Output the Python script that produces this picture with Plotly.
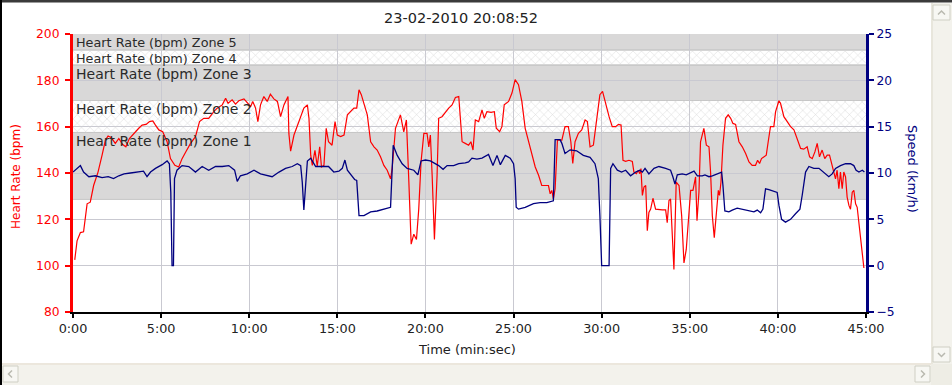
import plotly.graph_objects as go

# ---------------- data ----------------
chart_title = "23-02-2010 20:08:52"
x_tick_minutes = [0, 5, 10, 15, 20, 25, 30, 35, 40, 45]
x_tick_labels = ["0:00", "5:00", "10:00", "15:00", "20:00", "25:00", "30:00", "35:00", "40:00", "45:00"]

zone_names = ["Heart Rate (bpm) Zone 1", "Heart Rate (bpm) Zone 2", "Heart Rate (bpm) Zone 3",
              "Heart Rate (bpm) Zone 4", "Heart Rate (bpm) Zone 5"]
zone_low = [128.6, 157.5, 171.3, 186.6, 193.1]
zone_high = [157.5, 171.3, 186.6, 193.1, 200.0]

hr_time = [0.1,0.23,0.42,0.6,0.8,0.98,1.17,1.42,1.65,1.84,
           1.99,2.18,2.4,2.6,2.82,3.0,3.2,3.45,3.73,3.92,
           4.15,4.34,4.53,4.68,4.87,5.09,5.34,5.53,5.78,6.0,
           6.19,6.42,6.67,6.95,7.18,7.42,7.7,7.99,8.18,8.47,
           8.66,8.8,9.03,9.22,9.41,9.7,9.89,10.08,10.2,10.36,
           10.49,10.64,10.83,11.02,11.2,11.4,11.6,11.78,11.97,12.2,
           12.25,12.35,12.54,12.82,13.1,13.3,13.39,13.49,13.58,13.73,
           13.86,14.0,14.1,14.24,14.37,14.5,14.7,14.87,15.0,15.19,
           15.38,15.57,15.75,15.94,16.1,16.23,16.36,16.51,16.7,16.89,
           17.08,17.26,17.45,17.64,17.83,18.02,18.11,18.3,18.58,18.77,
           18.92,19.06,19.19,19.34,19.49,19.62,19.75,19.91,20.09,20.19,
           20.28,20.38,20.51,20.66,20.75,20.94,21.13,21.32,21.51,21.7,
           21.89,21.98,22.08,22.26,22.45,22.58,22.7,22.83,23.02,23.21,
           23.34,23.49,23.72,23.91,24.02,24.21,24.34,24.47,24.72,24.91,
           25.09,25.28,25.47,25.66,25.85,26.04,26.23,26.42,26.6,26.79,
           26.98,27.08,27.17,27.26,27.36,27.49,27.74,27.92,28.11,28.25,
           28.36,28.49,28.68,28.87,29.06,29.19,29.34,29.53,29.72,29.9,
           30.05,30.23,30.42,30.6,30.79,30.95,31.1,31.21,31.36,31.55,
           31.74,31.83,31.97,32.08,32.16,32.23,32.31,32.4,32.5,32.59,
           32.68,32.78,32.91,33.06,33.25,33.44,33.63,33.72,33.82,33.91,
           34.01,34.1,34.23,34.39,34.54,34.67,34.8,34.91,35.05,35.18,
           35.33,35.41,35.52,35.61,35.8,35.94,36.09,36.18,36.28,36.39,
           36.5,36.62,36.69,36.77,36.88,37.03,37.18,37.32,37.45,37.6,
           37.79,37.98,38.17,38.36,38.54,38.73,38.85,38.96,39.07,39.2,
           39.34,39.45,39.58,39.77,39.87,40.06,40.15,40.34,40.53,40.72,
           40.91,41.1,41.29,41.47,41.66,41.8,41.95,42.1,42.23,42.36,
           42.51,42.66,42.8,42.93,43.08,43.17,43.27,43.36,43.46,43.55,
           43.65,43.74,43.84,43.93,44.03,44.12,44.22,44.31,44.41,44.5,
           44.6,44.69,44.79,44.88]
hr_bpm = [102.5,110.7,114.3,114.6,126.7,127.4,134.6,140.4,147.7,154.2,
          156.0,155.2,152.8,154.9,152.3,151.3,154.9,157.1,159.3,160.7,
          161.0,162.2,162.5,160.7,158.6,157.8,153.5,146.2,143.3,142.6,
          146.2,149.4,152.8,155.7,162.2,163.6,163.6,166.5,168.0,169.4,
          172.3,170.1,171.6,169.7,171.2,172.0,170.1,168.7,170.9,168.0,
          162.2,169.4,173.0,170.9,174.0,172.0,170.9,164.3,169.4,173.0,
          157.1,149.4,156.4,162.2,168.0,169.4,163.6,147.7,143.3,149.8,
          143.0,151.3,142.6,143.3,159.3,153.5,152.0,162.2,156.4,155.7,
          156.4,165.1,166.5,168.0,168.0,175.9,173.8,170.1,165.1,153.5,
          151.3,149.9,147.0,143.3,141.2,137.5,141.9,159.3,165.1,157.8,
          162.9,135.9,109.3,113.6,111.3,124.4,144.8,157.1,157.1,151.3,
          156.4,139.0,111.3,139.0,163.6,164.3,166.2,168.0,169.4,172.6,
          173.0,163.6,153.5,152.8,152.0,153.5,149.9,162.9,162.2,167.2,
          163.6,166.5,166.2,166.5,159.3,157.8,160.0,169.4,170.9,174.5,
          180.3,178.1,170.9,159.3,153.5,147.7,142.6,139.0,134.6,134.6,
          134.6,131.0,132.5,128.8,133.2,154.2,154.2,160.0,160.0,153.5,
          144.1,153.5,157.1,158.6,162.9,162.2,151.3,152.0,162.2,173.8,
          175.2,169.4,164.3,160.0,160.0,161.0,160.7,145.5,145.0,145.5,
          145.0,140.4,139.7,141.2,139.7,141.9,130.3,133.9,134.6,115.1,
          123.0,124.4,129.1,124.4,124.1,124.1,124.1,118.6,128.1,128.8,
          112.9,98.4,136.1,134.6,121.5,101.2,107.0,118.6,132.5,132.5,
          138.3,119.4,131.7,153.5,159.3,152.0,151.3,140.4,121.5,112.1,
          121.5,132.5,130.3,136.1,152.0,163.6,165.1,163.6,161.4,161.0,
          153.5,151.3,148.4,144.8,143.3,143.3,145.5,144.1,146.2,147.0,
          147.7,153.5,160.0,160.0,166.5,171.2,170.1,164.3,162.2,160.0,
          158.6,154.2,150.6,150.3,151.3,147.0,146.2,149.1,152.8,147.0,
          149.9,146.2,147.7,147.7,143.3,141.2,137.5,141.2,133.2,140.4,
          133.2,140.4,138.3,129.6,126.0,124.4,131.7,132.5,126.7,125.2,
          118.6,109.9,103.3,99.0]

speed_time = [0,0.42,0.6,0.9,1.27,1.65,2.0,2.3,2.6,2.9,
              3.26,3.73,4.0,4.2,4.4,4.68,5.06,5.34,5.47,5.55,
              5.62,5.7,5.76,5.9,6.19,6.57,6.95,7.33,7.7,8.09,
              8.47,8.84,9.17,9.32,9.5,9.89,10.27,10.64,10.93,11.3,
              11.69,12.06,12.44,12.73,12.92,13.01,13.1,13.2,13.3,13.49,
              13.77,14.15,14.5,14.8,15.09,15.28,15.43,15.57,15.79,15.98,
              16.1,16.23,16.51,16.89,17.26,17.64,17.92,18.02,18.17,18.4,
              18.68,18.96,19.34,19.57,19.75,20.0,20.28,20.57,20.75,21.0,
              21.23,21.6,21.89,22.26,22.45,22.64,22.92,23.21,23.49,23.58,
              23.83,24.06,24.25,24.53,24.81,25.0,25.09,25.15,25.28,25.66,
              26.13,26.51,26.89,27.17,27.26,27.36,27.64,27.74,27.92,28.21,
              28.58,28.96,29.34,29.62,29.81,29.9,30.0,30.42,30.51,30.64,
              30.89,31.13,31.36,31.64,31.93,32.16,32.31,32.46,32.68,32.97,
              33.25,33.63,33.91,34.04,34.16,34.29,34.57,34.8,35.05,35.24,
              35.43,35.71,35.86,36.09,36.28,36.56,36.81,36.88,36.99,37.22,
              37.41,37.69,37.98,38.36,38.64,38.83,39.02,39.15,39.3,39.49,
              39.68,39.96,40.06,40.21,40.43,40.72,41.0,41.25,41.38,41.57,
              41.76,42.04,42.33,42.61,42.89,43.08,43.27,43.55,43.84,44.12,
              44.31,44.44,44.6,44.79,44.91]
speed_kmh = [10.1,10.8,10.1,9.6,9.7,9.5,9.6,9.4,9.7,9.9,
             10.0,10.1,10.2,9.6,10.1,10.5,10.9,11.3,11.0,7.9,
             0.0,0.0,9.4,10.3,10.8,10.7,10.1,10.7,10.3,10.7,
             10.7,10.8,10.3,9.1,9.7,9.9,10.3,9.9,9.8,9.6,
             10.1,10.5,10.7,11.0,10.8,9.0,6.0,8.7,11.3,11.6,
             10.7,10.7,10.7,10.1,10.2,10.5,11.4,10.3,9.7,9.3,
             9.2,5.4,5.4,5.8,5.9,6.1,6.2,6.3,13.0,11.9,
             11.0,10.5,10.3,9.8,11.3,11.4,11.3,11.0,10.8,10.4,
             10.8,10.8,11.0,11.1,11.2,11.6,11.5,11.6,11.9,12.0,
             10.8,11.9,10.9,11.9,11.6,11.0,9.4,6.3,6.1,6.3,
             6.7,6.8,6.8,6.9,7.0,13.6,13.6,13.2,12.1,12.5,
             12.4,11.9,11.7,11.0,9.4,5.4,0.0,0.0,10.5,11.0,
             10.3,10.1,10.3,9.7,10.1,10.3,10.1,10.5,9.9,10.5,
             10.7,10.5,10.3,9.6,8.8,9.8,9.9,9.8,10.0,10.2,
             9.7,9.7,9.8,9.6,9.7,9.9,10.1,8.7,5.9,5.8,
             6.0,6.2,6.1,5.9,5.8,6.0,5.7,6.1,8.3,8.2,
             8.1,7.9,6.5,5.0,4.7,5.0,5.6,6.1,7.6,10.1,
             10.7,10.5,10.5,10.1,9.6,9.9,10.5,10.8,11.0,11.0,
             10.8,10.3,10.1,10.3,10.1]

assert len(hr_time) == len(hr_bpm), (len(hr_time), len(hr_bpm))
assert len(speed_time) == len(speed_kmh), (len(speed_time), len(speed_kmh))

# ---------------- layout geometry (pixels) ----------------
W, H = 952, 385
L, R, T, B = 73, 866, 34, 312
FONT = "DejaVu Sans"


def pxx(x):
    return (x - L) / (R - L)


def pxy(y):
    return (B - y) / (B - T)


fig = go.Figure()

# cross-hatched (light) zones 2 and 4
for i in (1, 3):
    fig.add_trace(go.Bar(
        x=[22.5], y=[zone_high[i] - zone_low[i]], base=[zone_low[i]], width=[45],
        marker=dict(color="rgba(0,0,0,0)", line=dict(width=0),
                    pattern=dict(shape="x", fgcolor="#d4d4d4", fgopacity=1, size=6,
                                 solidity=0.15, fillmode="overlay")),
        hoverinfo="skip", showlegend=False, yaxis="y"))

fig.add_trace(go.Scatter(x=hr_time, y=hr_bpm, mode="lines",
                         line=dict(color="#ff0000", width=1.2),
                         hoverinfo="skip", showlegend=False, yaxis="y"))
fig.add_trace(go.Scatter(x=speed_time, y=speed_kmh, mode="lines",
                         line=dict(color="#000080", width=1.3),
                         hoverinfo="skip", showlegend=False, yaxis="y2"))

shapes = []
# gray zones 1, 3, 5
for i in (0, 2, 4):
    shapes.append(dict(type="rect", xref="x", yref="y", x0=0, x1=45,
                       y0=zone_low[i], y1=zone_high[i], fillcolor="#d9d8d8",
                       line=dict(width=0), layer="below"))
# zone boundary lines
for v in zone_low + zone_high[:-1]:
    shapes.append(dict(type="line", xref="x", yref="y", x0=0, x1=45, y0=v, y1=v,
                       line=dict(color="#c6c6c6", width=1), layer="below"))


def rect(x0, y0, x1, y1, fill, line=None):
    d = dict(type="rect", xref="paper", yref="paper",
             x0=pxx(x0), x1=pxx(x1), y0=pxy(y1), y1=pxy(y0),
             fillcolor=fill, layer="above")
    d["line"] = line if line else dict(width=0)
    return d


def path(points, color, width=1.5):
    p = "M " + " L ".join(f"{pxx(a):.5f},{pxy(b):.5f}" for a, b in points)
    return dict(type="path", xref="paper", yref="paper", path=p,
                line=dict(color=color, width=width), layer="above")


# window chrome: frame and scrollbars
shapes += [
    rect(0, 0, W, 2, "#3a3a3a"),
    rect(0, 2, W, 3, "#9a9a9a"),
    rect(0, 0, 2, H, "#000000"),
    rect(931, 3, W, 364, "#f3f2ec"),
    rect(931, 3, 933, 364, "#e8e6dc"),
    rect(2, 363, 931, H, "#f3f2ec"),
    rect(2, 363, 931, 365, "#ece7dd"),
    rect(931, 364, W, H, "#eeede5"),
    rect(933, 5, 950, 20, "#f7f7f3", dict(color="#cfcfc4", width=1)),
    rect(933, 347, 950, 362, "#f7f7f3", dict(color="#cfcfc4", width=1)),
    rect(3, 366, 18, 382, "#f7f7f3", dict(color="#cfcfc4", width=1)),
    rect(915, 366, 930, 382, "#f7f7f3", dict(color="#cfcfc4", width=1)),
    path([(938, 14.5), (941.5, 11), (945, 14.5)], "#b9b9b0"),
    path([(938, 353), (941.5, 356.5), (945, 353)], "#b9b9b0"),
    path([(12, 370.5), (8.5, 374), (12, 377.5)], "#b9b9b0"),
    path([(921, 370.5), (924.5, 374), (921, 377.5)], "#b9b9b0"),
]

annotations = [
    dict(text=chart_title, x=pxx(461), y=pxy(18), xref="paper", yref="paper",
         showarrow=False, font=dict(family=FONT, size=14.5, color="#222222"),
         xanchor="center", yanchor="middle"),
    dict(text="Time (min:sec)", x=pxx(467), y=pxy(349), xref="paper", yref="paper",
         showarrow=False, font=dict(family=FONT, size=13, color="#222222"),
         xanchor="center", yanchor="middle"),
    dict(text="Heart Rate (bpm)", x=pxx(16), y=pxy(177), xref="paper", yref="paper",
         showarrow=False, textangle=-90, font=dict(family=FONT, size=12, color="#ff0000"),
         xanchor="center", yanchor="middle"),
    dict(text="Speed (km/h)", x=pxx(913), y=pxy(169), xref="paper", yref="paper",
         showarrow=False, textangle=90, font=dict(family=FONT, size=13, color="#000080"),
         xanchor="center", yanchor="middle"),
]
zone_font_sizes = [14, 14, 14, 12.8, 12.8]
for name, top, fs in zip(zone_names, zone_high, zone_font_sizes):
    annotations.append(dict(text=name, x=0, y=top, xref="x", yref="y", showarrow=False,
                            xanchor="left", yanchor="top", xshift=1, yshift=1,
                            font=dict(family=FONT, size=fs, color="#2a2a2a")))

fig.update_layout(
    width=W, height=H,
    margin=dict(l=L, r=W - R, t=T, b=H - B, pad=0),
    paper_bgcolor="#ffffff", plot_bgcolor="#ffffff",
    font=dict(family=FONT, size=12, color="#222222"),
    showlegend=False, barmode="overlay",
    shapes=shapes, annotations=annotations,
    xaxis=dict(range=[0, 45], tickvals=x_tick_minutes, ticktext=x_tick_labels,
               showgrid=True, gridcolor="#c9c9d1", gridwidth=1, zeroline=False,
               showline=True, linecolor="#000000", linewidth=2,
               ticks="outside", ticklen=4, tickwidth=2, tickcolor="#000000",
               tickfont=dict(family=FONT, size=12.8, color="#222222")),
    yaxis=dict(range=[80, 200], dtick=20, tick0=80,
               showgrid=True, gridcolor="#c9c9d1", gridwidth=1, zeroline=False,
               showline=True, linecolor="#ff0000", linewidth=3,
               ticks="outside", ticklen=5, tickwidth=2, tickcolor="#ff0000",
               ticklabelstandoff=3,
               tickfont=dict(family=FONT, size=12.3, color="#ff0000")),
    yaxis2=dict(range=[-5, 25], dtick=5, tick0=-5, overlaying="y", side="right",
                showgrid=False, zeroline=False,
                showline=True, linecolor="#000080", linewidth=3,
                ticks="outside", ticklen=5, tickwidth=2, tickcolor="#000080",
                tickfont=dict(family=FONT, size=12.3, color="#000080")),
)

fig.write_html(
    "out.html",
    config={"displayModeBar": False},
    post_script="document.body.style.margin='0px';document.body.style.overflow='hidden';",
)
